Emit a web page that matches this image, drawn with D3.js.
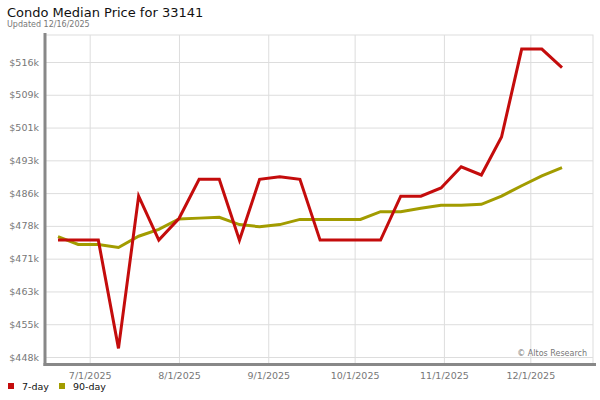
<!DOCTYPE html>
<html><head><meta charset="utf-8">
<script src="https://cdn.jsdelivr.net/npm/d3@7"></script>
<style>body{margin:0;background:#fff}svg{display:block}text{font-family:"DejaVu Sans",sans-serif}</style>
</head><body><svg id="c" width="600" height="400"></svg>
<script>
const startDate = "2025-06-20";
const weekCount = 26;
const sevenDay = [474.9,474.9,474.9,449.8,485.1,474.9,479.9,489.0,489.0,474.9,489.0,489.6,489.0,474.9,474.9,474.9,474.9,485.1,485.1,487.0,491.9,490.0,498.8,519.2,519.2,514.9];
const ninetyDay = [475.7,473.9,473.9,473.2,475.8,477.4,479.8,480.0,480.2,478.5,478.0,478.5,479.7,479.7,479.7,479.7,481.5,481.5,482.3,483.0,483.0,483.2,485.1,487.5,489.8,491.7];
const yTickValues = [447.8,455.4,463.0,470.6,478.2,485.8,493.4,501.0,508.6,516.2];
const xTickDates = ["2025-07-01","2025-08-01","2025-09-01","2025-10-01","2025-11-01","2025-12-01"];
const seriesNames = ["7-day","90-day"];
const colors = ["#c40c0c","#a29c00"];

const parse = d3.utcParse("%Y-%m-%d");
const d0 = parse(startDate);
const dates = d3.range(weekCount).map(i => d3.utcDay.offset(d0, 7*i));
const svg = d3.select("#c");

const L=45, R=593, T=35, B=364;
const x = d3.scaleUtc().domain([dates[0], dates[dates.length-1]]).range([58,562]);
const y = d3.scaleLinear().domain([447.8,516.2]).range([357,62]);

// frame
svg.append("rect").attr("x",L).attr("y",T).attr("width",R-L).attr("height",B-T).attr("fill","#fff").attr("stroke","#ddd").attr("stroke-width",1);
// grid
const yAxis = d3.axisLeft(y).tickValues(yTickValues).tickSize(-(R-L)).tickFormat(v=>"$"+Math.round(v)+"k").tickPadding(6);
const gy = svg.append("g").attr("transform",`translate(${L},0)`).call(yAxis);
gy.select(".domain").remove();
gy.selectAll("line").attr("stroke","#ddd");
gy.selectAll("text").attr("fill","#777").attr("font-size","9.5px");
const xAxis = d3.axisBottom(x).tickValues(xTickDates.map(parse)).tickSize(-(B-T)).tickFormat(d3.utcFormat("%-m/%-d/%Y")).tickPadding(6);
const gx = svg.append("g").attr("transform",`translate(0,${B})`).call(xAxis);
gx.select(".domain").remove();
gx.selectAll("line").attr("stroke","#ddd");
gx.selectAll("text").attr("fill","#777").attr("font-size","9.5px").attr("dy","0.9em");

// watermark
svg.append("text").attr("x",587).attr("y",356).attr("text-anchor","end").attr("font-size","8px").attr("fill","#777").text("© Altos Research");

// lines
const line = d3.line().x((d,i)=>x(dates[i])).y(d=>y(d));
[ninetyDay, sevenDay].forEach((s,k)=>{
  const idx = k===0?1:0;
  svg.append("path").datum(s).attr("d",line).attr("fill","none").attr("stroke",colors[idx]).attr("stroke-width",3).attr("stroke-linejoin","miter");
});

// axis bars
svg.append("line").attr("x1",L).attr("x2",L).attr("y1",33).attr("y2",366).attr("stroke","#888").attr("stroke-width",3);
svg.append("line").attr("x1",L-1.5).attr("x2",596).attr("y1",364.5).attr("y2",364.5).attr("stroke","#888").attr("stroke-width",3);

// title
svg.append("text").attr("x",7).attr("y",17).attr("font-size","13px").attr("fill","#111").text("Condo Median Price for 33141");
svg.append("text").attr("x",7).attr("y",27).attr("font-size","8px").attr("fill","#777").text("Updated 12/16/2025");

// legend
const lg = svg.append("g");
const lx = [8,59];
seriesNames.forEach((n,i)=>{
  lg.append("rect").attr("x",lx[i]).attr("y",383).attr("width",6).attr("height",6).attr("fill",colors[i]);
  lg.append("text").attr("x",lx[i]+14).attr("y",389.5).attr("font-size","9.5px").attr("fill","#111").text(n);
});
</script></body></html>
